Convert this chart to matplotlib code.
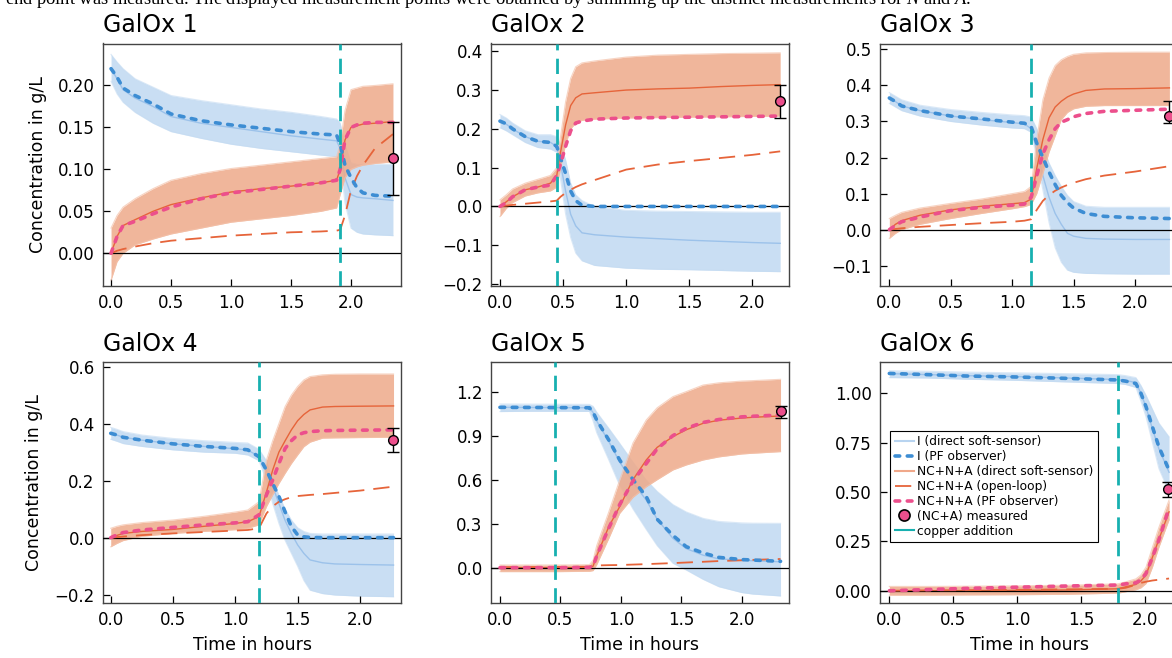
import matplotlib.pyplot as plt
from matplotlib.lines import Line2D
import numpy as np

plt.rcParams["mathtext.fontset"] = "custom"
plt.rcParams["mathtext.it"] = "Liberation Serif:italic"
plt.rcParams["mathtext.rm"] = "Liberation Serif"

# ---- GalOx 1 (copper at 1.91 h) ----
t1 = [0.0, 0.05, 0.1, 0.2, 0.35, 0.5, 0.75, 1.0, 1.25, 1.5, 1.75, 1.88, 1.91, 1.95, 2.0, 2.05, 2.1, 2.2, 2.35]
i_pf1 = [0.220, 0.210, 0.197, 0.188, 0.178, 0.166, 0.158, 0.153, 0.149, 0.145, 0.142, 0.141, 0.130, 0.105, 0.090, 0.078, 0.072, 0.069, 0.068]
i_hi1 = [0.237, 0.228, 0.220, 0.208, 0.198, 0.188, 0.182, 0.177, 0.172, 0.168, 0.163, 0.160, 0.155, 0.130, 0.108, 0.106, 0.106, 0.106, 0.106]
i_lo1 = [0.205, 0.190, 0.180, 0.168, 0.155, 0.145, 0.137, 0.130, 0.125, 0.121, 0.117, 0.115, 0.110, 0.060, 0.030, 0.025, 0.023, 0.022, 0.021]
i_ss1 = [0.220, 0.208, 0.195, 0.185, 0.175, 0.163, 0.155, 0.150, 0.145, 0.140, 0.136, 0.134, 0.125, 0.090, 0.070, 0.067, 0.066, 0.065, 0.063]
o_hi1 = [0.030, 0.045, 0.055, 0.065, 0.077, 0.087, 0.095, 0.101, 0.105, 0.109, 0.113, 0.115, 0.130, 0.170, 0.195, 0.197, 0.199, 0.200, 0.202]
o_lo1 = [-0.032, -0.010, 0.000, 0.010, 0.017, 0.023, 0.030, 0.037, 0.041, 0.045, 0.050, 0.054, 0.070, 0.090, 0.100, 0.103, 0.105, 0.107, 0.109]
o_ss1 = [0.000, 0.020, 0.033, 0.040, 0.050, 0.058, 0.066, 0.073, 0.077, 0.080, 0.084, 0.087, 0.100, 0.135, 0.150, 0.152, 0.154, 0.155, 0.157]
o_pf1 = [0.000, 0.020, 0.033, 0.038, 0.047, 0.055, 0.065, 0.072, 0.076, 0.080, 0.084, 0.087, 0.100, 0.135, 0.150, 0.153, 0.155, 0.156, 0.156]
o_ol1 = [0.000, 0.003, 0.005, 0.008, 0.012, 0.015, 0.018, 0.021, 0.023, 0.025, 0.026, 0.027, 0.028, 0.045, 0.075, 0.092, 0.105, 0.125, 0.142]
meas1 = (2.35, 0.113, 0.069, 0.156)
cu1 = 1.91

# ---- GalOx 2 (copper at 0.45 h) ----
t2 = [0.0, 0.05, 0.1, 0.2, 0.3, 0.4, 0.45, 0.48, 0.52, 0.56, 0.6, 0.65, 0.75, 1.0, 1.25, 1.5, 1.75, 2.0, 2.22]
i_pf2 = [0.220, 0.213, 0.200, 0.180, 0.168, 0.165, 0.155, 0.125, 0.085, 0.040, 0.015, 0.003, 0.0, 0.0, 0.0, 0.0, 0.0, 0.0, 0.0]
i_hi2 = [0.237, 0.228, 0.215, 0.195, 0.185, 0.185, 0.180, 0.160, 0.120, 0.060, 0.030, 0.015, 0.0, -0.010, -0.012, -0.013, -0.014, -0.015, -0.015]
i_lo2 = [0.203, 0.195, 0.185, 0.165, 0.152, 0.148, 0.140, 0.070, -0.020, -0.080, -0.120, -0.140, -0.152, -0.159, -0.162, -0.163, -0.165, -0.167, -0.168]
i_ss2 = [0.220, 0.212, 0.200, 0.180, 0.168, 0.165, 0.155, 0.110, 0.040, -0.020, -0.050, -0.068, -0.073, -0.079, -0.083, -0.087, -0.090, -0.093, -0.095]
o_hi2 = [0.017, 0.030, 0.045, 0.060, 0.070, 0.080, 0.100, 0.180, 0.270, 0.330, 0.360, 0.370, 0.375, 0.385, 0.390, 0.392, 0.394, 0.395, 0.396]
o_lo2 = [-0.026, -0.005, 0.010, 0.027, 0.035, 0.040, 0.050, 0.100, 0.160, 0.200, 0.215, 0.222, 0.225, 0.228, 0.229, 0.230, 0.231, 0.232, 0.233]
o_ss2 = [0.000, 0.012, 0.025, 0.043, 0.050, 0.060, 0.080, 0.140, 0.210, 0.260, 0.280, 0.290, 0.293, 0.300, 0.303, 0.305, 0.309, 0.312, 0.314]
o_pf2 = [0.000, 0.010, 0.025, 0.043, 0.050, 0.055, 0.080, 0.110, 0.155, 0.195, 0.215, 0.220, 0.225, 0.228, 0.229, 0.230, 0.231, 0.232, 0.233]
o_ol2 = [0.000, 0.002, 0.004, 0.007, 0.010, 0.013, 0.015, 0.025, 0.035, 0.043, 0.050, 0.057, 0.068, 0.095, 0.108, 0.117, 0.125, 0.133, 0.142]
meas2 = (2.22, 0.271, 0.228, 0.313)
cu2 = 0.45

# ---- GalOx 3 (copper at 1.155 h) ----
t3 = [0.0, 0.05, 0.1, 0.25, 0.5, 0.75, 1.0, 1.1, 1.155, 1.2, 1.25, 1.3, 1.35, 1.4, 1.45, 1.5, 1.6, 1.75, 2.0, 2.28]
i_pf3 = [0.365, 0.355, 0.343, 0.330, 0.315, 0.307, 0.298, 0.295, 0.285, 0.240, 0.200, 0.160, 0.125, 0.095, 0.075, 0.060, 0.045, 0.037, 0.033, 0.031]
i_hi3 = [0.380, 0.370, 0.360, 0.345, 0.333, 0.325, 0.318, 0.316, 0.312, 0.280, 0.230, 0.185, 0.150, 0.120, 0.095, 0.078, 0.065, 0.062, 0.062, 0.062]
i_lo3 = [0.350, 0.340, 0.330, 0.315, 0.300, 0.290, 0.282, 0.280, 0.270, 0.200, 0.110, 0.020, -0.050, -0.090, -0.112, -0.118, -0.121, -0.122, -0.123, -0.123]
i_ss3 = [0.365, 0.355, 0.343, 0.330, 0.315, 0.305, 0.297, 0.293, 0.280, 0.220, 0.150, 0.090, 0.045, 0.015, -0.010, -0.018, -0.024, -0.026, -0.027, -0.027]
o_hi3 = [0.031, 0.040, 0.048, 0.060, 0.073, 0.085, 0.100, 0.106, 0.120, 0.250, 0.360, 0.420, 0.455, 0.471, 0.480, 0.486, 0.490, 0.491, 0.492, 0.492]
o_lo3 = [-0.024, -0.010, 0.000, 0.015, 0.031, 0.045, 0.058, 0.064, 0.070, 0.100, 0.156, 0.215, 0.260, 0.305, 0.325, 0.335, 0.342, 0.344, 0.344, 0.344]
o_ss3 = [0.000, 0.015, 0.025, 0.040, 0.055, 0.065, 0.072, 0.075, 0.085, 0.170, 0.250, 0.310, 0.340, 0.356, 0.368, 0.376, 0.386, 0.390, 0.391, 0.393]
o_pf3 = [0.000, 0.012, 0.022, 0.035, 0.053, 0.062, 0.068, 0.071, 0.090, 0.150, 0.210, 0.249, 0.280, 0.298, 0.305, 0.313, 0.322, 0.328, 0.331, 0.334]
o_ol3 = [0.000, 0.002, 0.004, 0.008, 0.013, 0.018, 0.022, 0.025, 0.029, 0.055, 0.080, 0.096, 0.108, 0.117, 0.124, 0.130, 0.140, 0.150, 0.161, 0.176]
meas3 = (2.28, 0.316, 0.297, 0.356)
cu3 = 1.155

# ---- GalOx 4 (copper at 1.19 h) ----
t4 = [0.0, 0.05, 0.1, 0.25, 0.5, 0.75, 1.0, 1.1, 1.19, 1.25, 1.3, 1.35, 1.4, 1.45, 1.5, 1.55, 1.6, 1.7, 1.8, 2.0, 2.27]
i_pf4 = [0.366, 0.360, 0.352, 0.342, 0.329, 0.320, 0.313, 0.308, 0.284, 0.237, 0.190, 0.145, 0.090, 0.039, 0.010, 0.003, 0.001, 0.0, 0.0, 0.0, 0.0]
i_hi4 = [0.387, 0.380, 0.372, 0.360, 0.348, 0.340, 0.334, 0.332, 0.310, 0.270, 0.200, 0.150, 0.100, 0.062, 0.035, 0.022, 0.015, 0.013, 0.013, 0.013, 0.013]
i_lo4 = [0.345, 0.338, 0.330, 0.320, 0.308, 0.300, 0.296, 0.290, 0.270, 0.200, 0.120, 0.050, -0.010, -0.055, -0.100, -0.150, -0.184, -0.196, -0.201, -0.205, -0.207]
i_ss4 = [0.366, 0.360, 0.352, 0.342, 0.329, 0.320, 0.312, 0.307, 0.285, 0.235, 0.180, 0.120, 0.060, 0.015, -0.025, -0.055, -0.078, -0.088, -0.092, -0.094, -0.096]
o_hi4 = [0.033, 0.040, 0.045, 0.053, 0.062, 0.075, 0.090, 0.097, 0.126, 0.272, 0.340, 0.400, 0.460, 0.500, 0.530, 0.553, 0.565, 0.571, 0.573, 0.574, 0.574]
o_lo4 = [-0.032, -0.020, -0.010, 0.005, 0.015, 0.022, 0.028, 0.033, 0.045, 0.109, 0.150, 0.190, 0.226, 0.260, 0.290, 0.319, 0.335, 0.349, 0.350, 0.351, 0.352]
o_ss4 = [0.000, 0.008, 0.015, 0.022, 0.029, 0.040, 0.050, 0.056, 0.074, 0.160, 0.237, 0.300, 0.340, 0.378, 0.410, 0.432, 0.448, 0.458, 0.460, 0.461, 0.462]
o_pf4 = [0.000, 0.010, 0.018, 0.027, 0.036, 0.045, 0.052, 0.056, 0.080, 0.150, 0.202, 0.260, 0.313, 0.340, 0.360, 0.368, 0.372, 0.375, 0.376, 0.377, 0.378]
o_ol4 = [0.000, 0.002, 0.004, 0.009, 0.015, 0.020, 0.025, 0.027, 0.033, 0.085, 0.110, 0.126, 0.135, 0.142, 0.146, 0.148, 0.150, 0.153, 0.157, 0.165, 0.179]
meas4 = (2.267, 0.343, 0.299, 0.386)
cu4 = 1.187

# ---- GalOx 5 (copper at 0.46 h) ----
t5 = [0.0, 0.25, 0.5, 0.74, 0.77, 0.8, 0.9, 0.99, 1.1, 1.21, 1.3, 1.43, 1.54, 1.68, 1.81, 2.0, 2.09, 2.32]
i_pf5 = [1.093, 1.092, 1.091, 1.090, 1.060, 1.007, 0.870, 0.734, 0.600, 0.484, 0.330, 0.220, 0.143, 0.100, 0.070, 0.055, 0.052, 0.043]
i_hi5 = [1.116, 1.115, 1.114, 1.113, 1.100, 1.060, 0.950, 0.848, 0.720, 0.598, 0.520, 0.430, 0.380, 0.336, 0.315, 0.305, 0.303, 0.302]
i_lo5 = [1.064, 1.066, 1.066, 1.065, 1.000, 0.920, 0.734, 0.560, 0.400, 0.260, 0.150, 0.030, -0.016, -0.080, -0.130, -0.170, -0.180, -0.193]
i_ss5 = [1.093, 1.092, 1.091, 1.090, 1.058, 1.000, 0.860, 0.720, 0.580, 0.460, 0.330, 0.200, 0.130, 0.085, 0.060, 0.050, 0.047, 0.040]
o_hi5 = [0.018, 0.018, 0.018, 0.020, 0.050, 0.150, 0.380, 0.598, 0.850, 1.007, 1.090, 1.166, 1.200, 1.245, 1.260, 1.272, 1.275, 1.284]
o_lo5 = [-0.027, -0.027, -0.027, -0.025, -0.020, 0.020, 0.200, 0.370, 0.480, 0.552, 0.600, 0.666, 0.700, 0.734, 0.755, 0.775, 0.780, 0.791]
o_ss5 = [0.000, 0.000, 0.000, 0.002, 0.010, 0.080, 0.280, 0.416, 0.600, 0.734, 0.820, 0.893, 0.940, 0.984, 1.005, 1.020, 1.025, 1.034]
o_pf5 = [0.000, 0.000, 0.000, 0.002, 0.010, 0.080, 0.270, 0.430, 0.590, 0.710, 0.810, 0.900, 0.950, 0.990, 1.010, 1.028, 1.032, 1.041]
o_ol5 = [0.003, 0.004, 0.005, 0.006, 0.012, 0.015, 0.017, 0.018, 0.021, 0.024, 0.027, 0.031, 0.035, 0.040, 0.045, 0.050, 0.053, 0.059]
meas5 = (2.32, 1.066, 1.023, 1.102)
cu5 = 0.459

# ---- GalOx 6 (copper at 1.79 h) ----
t6 = [0.0, 0.3, 0.6, 1.0, 1.39, 1.79, 1.85, 1.93, 1.97, 2.01, 2.06, 2.11, 2.19]
i_pf6 = [1.101, 1.095, 1.088, 1.083, 1.076, 1.068, 1.062, 1.050, 1.000, 0.932, 0.830, 0.730, 0.611]
i_hi6 = [1.115, 1.112, 1.108, 1.104, 1.100, 1.095, 1.090, 1.080, 1.040, 0.990, 0.920, 0.850, 0.780]
i_lo6 = [1.080, 1.078, 1.072, 1.066, 1.058, 1.050, 1.045, 1.030, 0.960, 0.880, 0.750, 0.620, 0.500]
i_ss6 = [1.100, 1.095, 1.090, 1.085, 1.078, 1.070, 1.065, 1.055, 1.000, 0.930, 0.820, 0.720, 0.600]
o_hi6 = [0.022, 0.022, 0.023, 0.025, 0.028, 0.035, 0.045, 0.060, 0.080, 0.120, 0.220, 0.320, 0.460]
o_lo6 = [-0.022, -0.022, -0.021, -0.020, -0.018, -0.012, -0.005, 0.005, 0.015, 0.037, 0.120, 0.220, 0.360]
o_ss6 = [0.000, 0.000, 0.001, 0.002, 0.004, 0.010, 0.020, 0.032, 0.050, 0.080, 0.170, 0.260, 0.400]
o_pf6 = [0.000, 0.006, 0.012, 0.018, 0.024, 0.029, 0.035, 0.040, 0.055, 0.088, 0.170, 0.257, 0.420]
o_ol6 = [0.000, 0.002, 0.003, 0.005, 0.007, 0.010, 0.015, 0.030, 0.040, 0.046, 0.052, 0.056, 0.062]
meas6 = (2.185, 0.514, 0.473, 0.552)
cu6 = 1.794

titles = ["GalOx 1", "GalOx 2", "GalOx 3", "GalOx 4", "GalOx 5", "GalOx 6"]
caption = ("end point was measured. The displayed measurement points were obtained by "
           "summing up the distinct measurements for $N$ and $A$.")
legend_labels = ["I (direct soft-sensor)", "I (PF observer)", "NC+N+A (direct soft-sensor)",
                 "NC+N+A (open-loop)", "NC+N+A (PF observer)", "(NC+A) measured", "copper addition"]

# colours
c_iband = "#c4dbf2"
c_ipf = "#3d8dd3"
c_oband = "#eeaa8a"
c_oss = "#e6643a"
c_opf = "#ec4f8c"
c_cu = "#17b0b0"
pf_dash = (0, (1.3, 2.1))
ol_dash = (0, (9, 5))
cu_dash = (0, (5.5, 3))

panels = [
    (t1, i_pf1, i_hi1, i_lo1, i_ss1, o_hi1, o_lo1, o_ss1, o_pf1, o_ol1, meas1, cu1),
    (t2, i_pf2, i_hi2, i_lo2, i_ss2, o_hi2, o_lo2, o_ss2, o_pf2, o_ol2, meas2, cu2),
    (t3, i_pf3, i_hi3, i_lo3, i_ss3, o_hi3, o_lo3, o_ss3, o_pf3, o_ol3, meas3, cu3),
    (t4, i_pf4, i_hi4, i_lo4, i_ss4, o_hi4, o_lo4, o_ss4, o_pf4, o_ol4, meas4, cu4),
    (t5, i_pf5, i_hi5, i_lo5, i_ss5, o_hi5, o_lo5, o_ss5, o_pf5, o_ol5, meas5, cu5),
    (t6, i_pf6, i_hi6, i_lo6, i_ss6, o_hi6, o_lo6, o_ss6, o_pf6, o_ol6, meas6, cu6),
]

# layout (figure px) -- the third column runs past the right edge like the crop
lefts = [103, 491, 880]
tops = [43.5, 362]
bottoms = [286, 603]
W, H = 1172, 658
pw = 298
xlims = [(-0.067, 2.417), (-0.071, 2.29), (-0.076, 2.35), (-0.062, 2.33), (-0.074, 2.39), (-0.073, 2.26)]
ylims = [(-0.039, 0.25), (-0.205, 0.42), (-0.156, 0.516), (-0.229, 0.616), (-0.241, 1.402), (-0.062, 1.159)]
yticks = [np.arange(0, 0.21, 0.05), np.arange(-0.2, 0.41, 0.1), np.arange(-0.1, 0.51, 0.1),
          np.arange(-0.2, 0.61, 0.2), np.arange(0, 1.21, 0.3), np.arange(0, 1.01, 0.25)]
yfmt = ["%.2f", "%.1f", "%.1f", "%.1f", "%.1f", "%.2f"]

fig = plt.figure(figsize=(W / 100, H / 100), dpi=100)
fig.text(5 / W, 1 - 4 / H, caption, family="Liberation Serif", fontsize=13.3,
         ha="left", va="baseline")

for k, p in enumerate(panels):
    t, i_pf, i_hi, i_lo, i_ss, o_hi, o_lo, o_ss, o_pf, o_ol, meas, cu = p
    r, c = divmod(k, 3)
    ax = fig.add_axes([lefts[c] / W, 1 - bottoms[r] / H, pw / W, (bottoms[r] - tops[r]) / H])

    ax.fill_between(t, i_lo, i_hi, color=c_iband, alpha=0.9, lw=0, zorder=1)
    ax.plot(t, i_hi, color=c_iband, lw=0.8, alpha=0.6, zorder=1)
    ax.plot(t, i_lo, color=c_iband, lw=0.8, alpha=0.6, zorder=1)
    ax.plot(t, i_ss, color="#9cc2ea", lw=1.0, zorder=2)

    ax.fill_between(t, o_lo, o_hi, color=c_oband, alpha=0.85, lw=0, zorder=3)
    ax.plot(t, o_hi, color="#f4c2aa", lw=0.8, alpha=0.7, zorder=3)
    ax.plot(t, o_lo, color="#f4c2aa", lw=0.8, alpha=0.7, zorder=3)
    ax.plot(t, o_ss, color=c_oss, lw=1.0, zorder=4)

    ax.axhline(0, color="black", lw=0.9, zorder=4.5)
    ax.plot(t, o_ol, color=c_oss, lw=1.3, ls=ol_dash, zorder=5)
    ax.plot(t, i_pf, color=c_ipf, lw=2.6, ls=pf_dash, dash_capstyle="round", zorder=6)
    ax.plot(t, o_pf, color=c_opf, lw=2.6, ls=pf_dash, dash_capstyle="round", zorder=6)
    ax.axvline(cu, color=c_cu, lw=2.0, ls=cu_dash, zorder=7)

    mx, my, mlo, mhi = meas
    ax.errorbar([mx], [my], yerr=[[my - mlo], [mhi - my]], fmt="o", ms=7,
                mfc=c_opf, mec="black", mew=1.0, ecolor="black", elinewidth=1.0,
                capsize=4, capthick=1.0, zorder=8)

    ax.set_xlim(*xlims[k])
    ax.set_ylim(*ylims[k])
    ax.set_xticks([0, 0.5, 1.0, 1.5, 2.0])
    ax.set_xticklabels(["0.0", "0.5", "1.0", "1.5", "2.0"])
    ax.set_yticks(yticks[k])
    ax.set_yticklabels([(yfmt[k] % v).replace("-", "\u2212") for v in yticks[k]])
    ax.tick_params(direction="in", length=5, width=0.9, labelsize=12, pad=6)
    for s in ax.spines.values():
        s.set_color("#444444")
        s.set_linewidth(1.0)
    ax.set_title(titles[k], loc="left", fontsize=17, pad=8)
    if c == 0:
        ax.set_ylabel("Concentration in g/L", fontsize=12.5, labelpad=8)
    if r == 1:
        ax.set_xlabel("Time in hours", fontsize=12.5, labelpad=5)

    if k == 5:
        handles = [
            Line2D([], [], color="#b8d4f0", lw=1.5),
            Line2D([], [], color=c_ipf, lw=2.6, ls=pf_dash, dash_capstyle="round"),
            Line2D([], [], color="#f0a88a", lw=1.5),
            Line2D([], [], color=c_oss, lw=1.3, ls=ol_dash),
            Line2D([], [], color=c_opf, lw=2.6, ls=pf_dash, dash_capstyle="round"),
            Line2D([], [], color="black", marker="o", ls="none", ms=8, mfc=c_opf, mec="black", mew=1.2),
            Line2D([], [], color=c_cu, lw=1.5),
        ]
        leg = ax.legend(handles, legend_labels, loc="upper left", bbox_to_anchor=(0.035, 0.715),
                        fontsize=8.8, frameon=True, fancybox=False, borderpad=0.35,
                        labelspacing=0.16, handlelength=1.6, handletextpad=0.25,
                        borderaxespad=0.0)
        leg.get_frame().set_edgecolor("black")
        leg.get_frame().set_linewidth(0.8)
        leg.get_frame().set_alpha(1)

fig.savefig("out.png", dpi=100)
